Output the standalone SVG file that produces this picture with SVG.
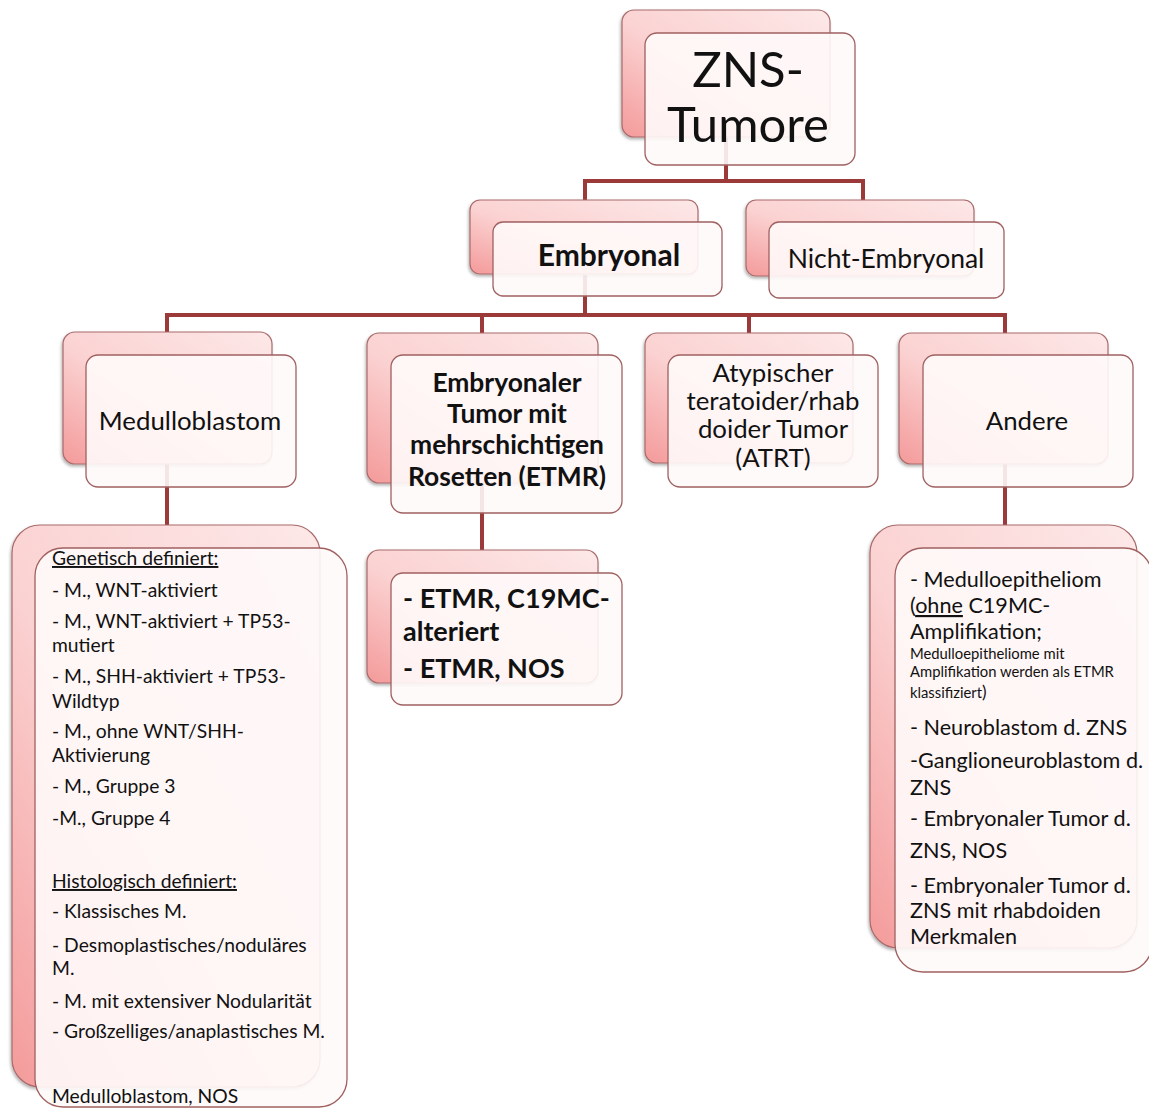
<svg xmlns="http://www.w3.org/2000/svg" width="1149" height="1109" viewBox="0 0 1149 1109">
<style>
.back{fill:url(#pinkGrad);stroke:#a86a6a;stroke-width:1.2;filter:url(#shadow)}
.front{fill:#fffafa;fill-opacity:0.9;stroke:#a06060;stroke-width:1.3}
.conn{stroke:#9c3a3a;stroke-width:4;fill:none;stroke-linecap:square}
text{font-family:Lato,"Liberation Sans",sans-serif;fill:#111}
.c{text-anchor:middle}
.b{font-weight:bold}
.l{font-size:19.3px}
.r{font-size:21.6px}
.s{font-size:14.8px}
.u{text-decoration:underline}
</style>
<defs>
<linearGradient id="pinkGrad" x1="1" y1="0" x2="0" y2="1">
<stop offset="0" stop-color="#fde8e8"/>
<stop offset="0.55" stop-color="#fbd2d2"/>
<stop offset="1" stop-color="#f49a9a"/>
</linearGradient>
<filter id="shadow" x="-10%" y="-10%" width="120%" height="125%">
<feDropShadow dx="-1" dy="2" stdDeviation="1.5" flood-color="#000" flood-opacity="0.3"/>
</filter>
</defs>
<rect width="1149" height="1109" fill="#ffffff"/>
<g id="connectors">
<path class="conn" d="M726 137 V181 M585 181 H863 M585 181 V200 M863 181 V200"/>
<path class="conn" d="M585 277 V315 M167 315 H1005 M167 315 V333 M482 315 V333 M749 315 V333 M1005 315 V333"/>
<path class="conn" d="M167 464 V525 M482 483 V550 M1005 464 V525"/>
</g>
<g id="zns">
<rect class="back" x="622" y="10" width="208" height="127" rx="12"/>
<rect class="front" x="645" y="33" width="210" height="132" rx="12"/>
<text class="c" x="748" y="87" font-size="49">ZNS-</text>
<text class="c" x="748" y="142" font-size="49">Tumore</text>
</g>
<g id="embryonal">
<rect class="back" x="470" y="200" width="228" height="74" rx="10"/>
<rect class="front" x="493" y="222" width="229" height="74" rx="10"/>
<text class="c b" x="609" y="266" font-size="30">Embryonal</text>
</g>
<g id="nicht-embryonal">
<rect class="back" x="746" y="200" width="228" height="76" rx="10"/>
<rect class="front" x="769" y="222" width="235" height="76" rx="10"/>
<text class="c" x="886" y="268" font-size="26.5">Nicht-Embryonal</text>
</g>
<g id="medulloblastom">
<rect class="back" x="63" y="332" width="209" height="132" rx="12"/>
<rect class="front" x="86" y="355" width="210" height="132" rx="12"/>
<text class="c" x="190" y="430" font-size="25.8">Medulloblastom</text>
</g>
<g id="etmr">
<rect class="back" x="367" y="333" width="231" height="150" rx="12"/>
<rect class="front" x="391" y="355" width="231" height="158" rx="12"/>
<text class="c b" x="507" y="392" font-size="26.4">Embryonaler</text>
<text class="c b" x="507" y="423" font-size="26.4">Tumor mit</text>
<text class="c b" x="507" y="454" font-size="26.4">mehrschichtigen</text>
<text class="c b" x="507" y="486" font-size="26.4">Rosetten (ETMR)</text>
</g>
<g id="atrt">
<rect class="back" x="645" y="333" width="208" height="130" rx="12"/>
<rect class="front" x="668" y="355" width="210" height="132" rx="12"/>
<text class="c" x="773" y="382" font-size="25.8">Atypischer</text>
<text class="c" x="773" y="410" font-size="25.8">teratoider/rhab</text>
<text class="c" x="773" y="438" font-size="25.8">doider Tumor</text>
<text class="c" x="773" y="467" font-size="25.8">(ATRT)</text>
</g>
<g id="andere">
<rect class="back" x="899" y="333" width="209" height="131" rx="12"/>
<rect class="front" x="923" y="355" width="210" height="132" rx="12"/>
<text class="c" x="1027" y="430" font-size="25.8">Andere</text>
</g>
<g id="medullo-liste">
<rect class="back" x="12" y="525" width="308" height="562" rx="28"/>
<rect class="front" x="35" y="548" width="312" height="559" rx="28"/>
<text class="l" x="52" y="565"><tspan class="u">Genetisch definiert:</tspan></text>
<text class="l" x="52" y="597">- M., WNT-aktiviert</text>
<text class="l" x="52" y="628">- M., WNT-aktiviert + TP53-</text>
<text class="l" x="52" y="652">mutiert</text>
<text class="l" x="52" y="683">- M., SHH-aktiviert + TP53-</text>
<text class="l" x="52" y="708">Wildtyp</text>
<text class="l" x="52" y="738">- M., ohne WNT/SHH-</text>
<text class="l" x="52" y="762">Aktivierung</text>
<text class="l" x="52" y="793">- M., Gruppe 3</text>
<text class="l" x="52" y="825">-M., Gruppe 4</text>
<text class="l" x="52" y="888"><tspan class="u">Histologisch definiert:</tspan></text>
<text class="l" x="52" y="918">- Klassisches M.</text>
<text class="l" x="52" y="952">- Desmoplastisches/noduläres</text>
<text class="l" x="52" y="975">M.</text>
<text class="l" x="52" y="1008">- M. mit extensiver Nodularität</text>
<text class="l" x="52" y="1038">- Großzelliges/anaplastisches M.</text>
<text class="l" x="52" y="1103">Medulloblastom, NOS</text>
</g>
<g id="etmr-liste">
<rect class="back" x="367" y="550" width="231" height="133" rx="12"/>
<rect class="front" x="391" y="573" width="231" height="132" rx="12"/>
<text class="b" x="403" y="608" font-size="27">- ETMR, C19MC-</text>
<text class="b" x="403" y="641" font-size="27">alteriert</text>
<text class="b" x="403" y="678" font-size="27">- ETMR, NOS</text>
</g>
<g id="andere-liste">
<rect class="back" x="870" y="525" width="267" height="423" rx="28"/>
<rect class="front" x="895" y="548" width="257" height="424" rx="28"/>
<text class="r" x="910" y="587">- Medulloepitheliom</text>
<text class="r" x="910" y="613">(<tspan class="u">ohne</tspan> C19MC-</text>
<text class="r" x="910" y="639">Amplifikation;</text>
<text class="s" x="910" y="659">Medulloepitheliome mit</text>
<text class="s" x="910" y="677">Amplifikation werden als ETMR</text>
<text class="s" x="910" y="698">klassifiziert<tspan font-size="17">)</tspan></text>
<text class="r" x="910" y="735">- Neuroblastom d. ZNS</text>
<text class="r" x="910" y="768">-Ganglioneuroblastom d.</text>
<text class="r" x="910" y="795">ZNS</text>
<text class="r" x="910" y="826">- Embryonaler Tumor d.</text>
<text class="r" x="910" y="858">ZNS, NOS</text>
<text class="r" x="910" y="893">- Embryonaler Tumor d.</text>
<text class="r" x="910" y="918">ZNS mit rhabdoiden</text>
<text class="r" x="910" y="944">Merkmalen</text>
</g>
</svg>
